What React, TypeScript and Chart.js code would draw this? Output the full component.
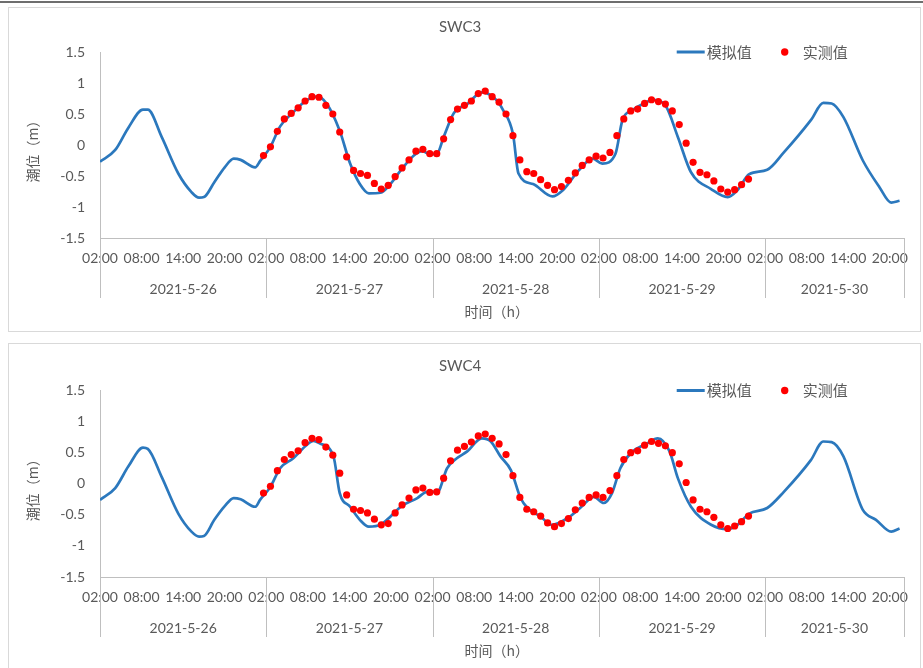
import React, { useEffect, useRef } from 'react';
import { Chart, registerables } from 'chart.js';

Chart.register(...registerables);

// ---------- data ----------
const dayLabels = ['2021-5-26', '2021-5-27', '2021-5-28', '2021-5-29', '2021-5-30'];
const hourTickLabels = ['02:00', '08:00', '14:00', '20:00'];
const hoursPerDay = 24;
const hoursPerTick = 6;
const axisMaxHour = 116;
const obsStartHour = 23.6;

const legendNames = ['模拟值', '实测值'];
const yAxisTitle = '潮位（m）';
const xAxisTitle = '时间（h）';

// SWC3
const sim1Hours = [0, 2.2, 4.1, 6.2, 6.9, 8.9, 11.3, 13.2, 14.3, 15, 16.5, 18, 19.3, 20.3, 22.4, 23.1, 24.6, 26, 27.9, 29.8, 31.3, 32.7, 34.6, 36.1, 37.5, 38.8, 40.5, 41.9, 43.4, 45.3, 46.5, 47.7, 48.7, 49.6, 51.1, 53, 55.1, 56.8, 58.2, 59.6, 60.4, 62.5, 65.3, 66.8, 69.1, 71.1, 72.5, 74.4, 75.4, 76.8, 78.7, 79.7, 81.6, 83.4, 85.3, 88.2, 90.6, 92, 93.7, 96.3, 98.7, 102.6, 104.4, 105.6, 107.3, 110.1, 112.5, 114.2, 115.4];
const sim1Values = [-0.27, -0.08, 0.28, 0.57, 0.57, 0.13, -0.46, -0.76, -0.85, -0.84, -0.6, -0.36, -0.22, -0.24, -0.36, -0.26, -0.03, 0.3, 0.53, 0.72, 0.78, 0.67, 0.23, -0.3, -0.63, -0.78, -0.77, -0.63, -0.41, -0.17, -0.1, -0.15, -0.13, 0.13, 0.52, 0.66, 0.85, 0.77, 0.56, 0.18, -0.46, -0.63, -0.83, -0.73, -0.41, -0.22, -0.3, -0.14, 0.4, 0.56, 0.68, 0.73, 0.64, 0.13, -0.44, -0.71, -0.84, -0.73, -0.47, -0.4, -0.12, 0.4, 0.68, 0.67, 0.45, -0.25, -0.68, -0.93, -0.9];
const obs1Values = [-0.17, -0.03, 0.22, 0.42, 0.51, 0.6, 0.71, 0.78, 0.77, 0.64, 0.5, 0.21, -0.19, -0.41, -0.46, -0.49, -0.62, -0.71, -0.65, -0.51, -0.37, -0.24, -0.1, -0.07, -0.14, -0.14, 0.1, 0.41, 0.58, 0.64, 0.71, 0.83, 0.87, 0.78, 0.69, 0.5, 0.15, -0.24, -0.43, -0.46, -0.56, -0.65, -0.72, -0.67, -0.57, -0.45, -0.33, -0.24, -0.18, -0.21, -0.12, 0.15, 0.42, 0.55, 0.58, 0.67, 0.73, 0.7, 0.66, 0.55, 0.33, 0.03, -0.28, -0.44, -0.48, -0.58, -0.71, -0.76, -0.72, -0.64, -0.55];

// SWC4
const sim2Hours = [0, 2.2, 4.1, 6.2, 6.9, 8.9, 11.3, 13.2, 14.3, 15, 16.5, 18, 19.3, 20.3, 22.4, 23.1, 24.6, 26, 27.9, 29.8, 30.8, 31.7, 33.7, 34.6, 36.1, 37.5, 38.8, 40.5, 41.9, 43.4, 45.8, 47.2, 48.7, 50.1, 51.5, 53, 55.1, 56.4, 57.8, 59.3, 60.7, 61.7, 63.6, 65.2, 67.4, 69.3, 71.3, 72.7, 73.9, 75.1, 76.6, 79, 80.5, 82.2, 83.4, 85.3, 88.2, 90.6, 92, 93.7, 96.3, 98.7, 102.6, 104.4, 105.6, 107.3, 110.1, 112, 114.2, 115.4];
const sim2Values = [-0.26, -0.07, 0.28, 0.58, 0.56, 0.11, -0.48, -0.77, -0.85, -0.84, -0.58, -0.36, -0.23, -0.25, -0.37, -0.26, -0.05, 0.25, 0.41, 0.62, 0.69, 0.65, 0.44, -0.15, -0.37, -0.58, -0.69, -0.66, -0.53, -0.37, -0.23, -0.13, -0.13, 0.25, 0.41, 0.52, 0.73, 0.68, 0.44, 0.22, -0.23, -0.39, -0.53, -0.66, -0.56, -0.39, -0.21, -0.31, -0.15, 0.25, 0.49, 0.65, 0.73, 0.52, 0.09, -0.37, -0.66, -0.73, -0.66, -0.48, -0.39, -0.13, 0.38, 0.68, 0.67, 0.44, -0.42, -0.58, -0.77, -0.72];
const obs2Values = [-0.15, -0.04, 0.21, 0.39, 0.47, 0.53, 0.66, 0.73, 0.71, 0.59, 0.46, 0.17, -0.18, -0.41, -0.43, -0.47, -0.57, -0.66, -0.64, -0.47, -0.34, -0.23, -0.1, -0.07, -0.14, -0.13, 0.09, 0.37, 0.54, 0.6, 0.67, 0.77, 0.8, 0.73, 0.64, 0.47, 0.13, -0.22, -0.41, -0.45, -0.52, -0.63, -0.69, -0.64, -0.56, -0.42, -0.31, -0.22, -0.18, -0.22, -0.11, 0.13, 0.39, 0.5, 0.53, 0.62, 0.68, 0.65, 0.61, 0.5, 0.32, 0.02, -0.26, -0.41, -0.45, -0.54, -0.66, -0.72, -0.68, -0.61, -0.52];

// ---------- style ----------
const BLUE = '#2B78BD';
const RED = '#FF0000';
const TEXT = '#595959';
const AXIS = '#BFBFBF';
const LATIN = 'Lato, "Open Sans", sans-serif';
const CJK = '"Noto Sans CJK SC", sans-serif';

const decorPlugin = {
  id: 'excelDecor',
  afterDraw(chart: any) {
    const { ctx, chartArea, scales } = chart;
    const xs = scales.x;
    const bottom = chartArea.bottom;
    ctx.save();
    // group separators
    ctx.strokeStyle = AXIS;
    ctx.lineWidth = 1;
    const bounds = dayLabels.map((_, i) => i * hoursPerDay).concat([axisMaxHour]);
    bounds.forEach((h) => {
      const x = Math.round(xs.getPixelForValue(h)) + 0.5;
      ctx.beginPath();
      ctx.moveTo(x, bottom);
      ctx.lineTo(x, bottom + 60);
      ctx.stroke();
    });
    // date labels
    ctx.fillStyle = TEXT;
    ctx.font = `14px ${LATIN}`;
    ctx.textAlign = 'center';
    ctx.textBaseline = 'middle';
    dayLabels.forEach((lab, i) => {
      const x0 = xs.getPixelForValue(bounds[i]);
      const x1 = xs.getPixelForValue(bounds[i + 1]);
      ctx.fillText(lab, (x0 + x1) / 2, bottom + 51);
    });
    // x axis title
    ctx.font = `14px ${CJK}`;
    ctx.fillText(xAxisTitle, (chartArea.left + chartArea.right) / 2 - 5, bottom + 74);
    // y axis title
    ctx.save();
    ctx.translate(24, (chartArea.top + chartArea.bottom) / 2 + 3);
    ctx.rotate(-Math.PI / 2);
    ctx.fillText(yAxisTitle, 0, 0);
    ctx.restore();
    // legend
    const ly = chartArea.top;
    const lx = chartArea.right - 227;
    ctx.strokeStyle = BLUE;
    ctx.lineWidth = 3;
    ctx.beginPath();
    ctx.moveTo(lx, ly);
    ctx.lineTo(lx + 28, ly);
    ctx.stroke();
    ctx.font = `15px ${CJK}`;
    ctx.textAlign = 'left';
    ctx.fillStyle = TEXT;
    ctx.fillText(legendNames[0], lx + 30, ly);
    ctx.fillStyle = RED;
    ctx.beginPath();
    ctx.arc(lx + 108, ly, 3.7, 0, Math.PI * 2);
    ctx.fill();
    ctx.fillStyle = TEXT;
    ctx.fillText(legendNames[1], lx + 126, ly);
    ctx.restore();
  },
};

type PanelProps = {
  title: string;
  simHours: number[];
  simValues: number[];
  obsValues: number[];
  titleTop: number;
  titleBottom: number;
  xAxisHeight: number;
};

function TidePanel({ title, simHours, simValues, obsValues, titleTop, titleBottom, xAxisHeight }: PanelProps) {
  const ref = useRef<HTMLCanvasElement | null>(null);
  useEffect(() => {
    if (!ref.current) return;
    const simData = simHours.map((h, i) => ({ x: h, y: simValues[i] }));
    const obsData = obsValues.map((v, i) => ({ x: obsStartHour + i, y: v }));
    const tickHours = Array.from({ length: Math.floor(axisMaxHour / hoursPerTick) + 1 }, (_, i) => i * hoursPerTick);
    const chart = new Chart(ref.current, {
      type: 'scatter',
      data: {
        datasets: [
          {
            label: legendNames[0],
            data: simData,
            showLine: true,
            borderColor: BLUE,
            backgroundColor: BLUE,
            borderWidth: 2.7,
            pointRadius: 0,
            cubicInterpolationMode: 'monotone',
            order: 2,
          },
          {
            label: legendNames[1],
            data: obsData,
            showLine: false,
            borderColor: RED,
            backgroundColor: RED,
            pointRadius: 3.6,
            pointBorderWidth: 0,
            order: 1,
          },
        ],
      },
      options: {
        animation: false,
        responsive: false,
        maintainAspectRatio: false,
        layout: { padding: { left: 0, right: 9, top: 0, bottom: 0 } },
        plugins: {
          legend: { display: false },
          tooltip: { enabled: false },
          title: {
            display: true,
            text: title,
            color: TEXT,
            font: { family: LATIN, size: 15, weight: 'normal', lineHeight: 1.2 },
            padding: { top: titleTop, bottom: titleBottom },
          },
        },
        scales: {
          x: {
            type: 'linear',
            min: 0,
            max: axisMaxHour,
            grid: { display: false, drawTicks: false, tickLength: 0 },
            border: { display: true, color: AXIS, width: 1 },
            afterBuildTicks: (scale: any) => {
              scale.ticks = tickHours.map((v) => ({ value: v }));
            },
            afterFit: (scale: any) => {
              scale.height = xAxisHeight;
            },
            ticks: {
              autoSkip: false,
              maxRotation: 0,
              minRotation: 0,
              padding: 12,
              color: TEXT,
              font: { family: LATIN, size: 14 },
              callback: (value: any) => hourTickLabels[(Math.round(Number(value) / hoursPerTick)) % hourTickLabels.length],
            },
          },
          y: {
            type: 'linear',
            min: -1.5,
            max: 1.5,
            grid: { display: false, drawTicks: false, tickLength: 0 },
            border: { display: true, color: AXIS, width: 1 },
            afterFit: (scale: any) => {
              scale.width = 91;
            },
            ticks: {
              stepSize: 0.5,
              padding: 15,
              color: TEXT,
              font: { family: LATIN, size: 14 },
              callback: (value: any) => String(Math.round(Number(value) * 10) / 10),
            },
          },
        },
      },
      plugins: [decorPlugin],
    } as any);
    return () => chart.destroy();
  }, [title, simHours, simValues, obsValues, titleTop, titleBottom, xAxisHeight]);
  return <canvas ref={ref} width={911} height={323} style={{ display: 'block', width: 911, height: 323 }} />;
}

export default function App() {
  return (
    <div style={{ position: 'fixed', left: 0, top: 0, width: 923, height: 668, background: '#ffffff', overflow: 'hidden' }}>
      <div style={{ position: 'absolute', left: 0, top: 1, width: 923, height: 2, background: '#6e6e6e' }} />
      <div style={{ position: 'absolute', left: 8, top: 7, width: 913, height: 325, boxSizing: 'border-box', border: '1px solid #D9D9D9' }}>
        <div style={{ position: 'absolute', left: 0, top: 0 }}>
          <TidePanel title="SWC3" simHours={sim1Hours} simValues={sim1Values} obsValues={obs1Values} titleTop={10} titleBottom={16} xAxisHeight={93} />
        </div>
      </div>
      <div style={{ position: 'absolute', left: 8, top: 343, width: 913, height: 340, boxSizing: 'border-box', border: '1px solid #D9D9D9' }}>
        <div style={{ position: 'absolute', left: 0, top: 0 }}>
          <TidePanel title="SWC4" simHours={sim2Hours} simValues={sim2Values} obsValues={obs2Values} titleTop={13} titleBottom={15.5} xAxisHeight={90} />
        </div>
      </div>
    </div>
  );
}
